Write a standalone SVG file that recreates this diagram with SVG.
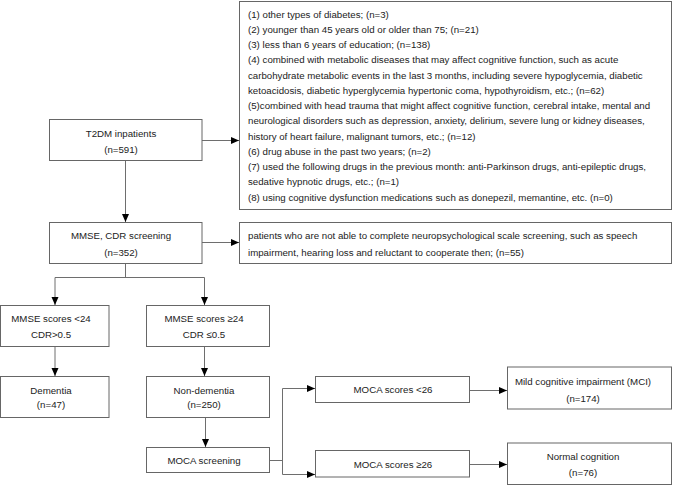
<svg xmlns="http://www.w3.org/2000/svg" width="673" height="485" viewBox="0 0 673 485">
<style>
.box{fill:#fff;stroke:#666;stroke-width:1}
.ln{fill:none;stroke:#6e6e6e;stroke-width:1}
text{font-family:"Liberation Sans",Arial,Helvetica,sans-serif;font-size:9.7px;fill:#222}
.big{font-size:9.85px}
.c{text-anchor:middle}
</style>
<defs>
<marker id="ah" markerUnits="userSpaceOnUse" markerWidth="9" markerHeight="8" refX="8" refY="3.5" orient="auto">
<path d="M0,0 L8,3.5 L0,7 z" fill="#000"/>
</marker>
</defs>
<rect width="673" height="485" fill="#fff"/>
<g id="connectors">
<path class="ln" d="M125.5,160.5 V222" marker-end="url(#ah)"/>
<path class="ln" d="M202,140.5 H239" marker-end="url(#ah)"/>
<path class="ln" d="M202,242.5 H239" marker-end="url(#ah)"/>
<path class="ln" d="M125.5,263.5 V277.5 M55,277.5 H204.5"/>
<path class="ln" d="M55,277.5 V305" marker-end="url(#ah)"/>
<path class="ln" d="M204.5,277.5 V305" marker-end="url(#ah)"/>
<path class="ln" d="M55,346.5 V376" marker-end="url(#ah)"/>
<path class="ln" d="M204.5,346.5 V376" marker-end="url(#ah)"/>
<path class="ln" d="M205.5,417.5 V447" marker-end="url(#ah)"/>
<path class="ln" d="M269.5,460.5 H282.5 M282.5,388.5 V474.5"/>
<path class="ln" d="M282.5,388.5 H315" marker-end="url(#ah)"/>
<path class="ln" d="M282.5,474.5 H315" marker-end="url(#ah)"/>
<path class="ln" d="M469.5,390.5 H507" marker-end="url(#ah)"/>
<path class="ln" d="M469.5,464.5 H507" marker-end="url(#ah)"/>
</g>
<g id="t2dm">
<rect class="box" x="49.5" y="119.5" width="152.5" height="41"/>
<text class="c" x="121" y="136.5">T2DM inpatients</text>
<text class="c" x="121" y="152.5">(n=591)</text>
</g>
<g id="exclusion1" class="big">
<rect class="box" x="239.5" y="1.5" width="432" height="208"/>
<text x="248" y="17.5">(1) other types of diabetes; (n=3)</text>
<text x="248" y="32.75">(2) younger than 45 years old or older than 75; (n=21)</text>
<text x="248" y="48">(3) less than 6 years of education; (n=138)</text>
<text x="248" y="63.25">(4) combined with metabolic diseases that may affect cognitive function, such as acute</text>
<text x="248" y="78.5">carbohydrate metabolic events in the last 3 months, including severe hypoglycemia, diabetic</text>
<text x="248" y="93.75">ketoacidosis, diabetic hyperglycemia hypertonic coma, hypothyroidism, etc.; (n=62)</text>
<text x="248" y="109">(5)combined with head trauma that might affect cognitive function, cerebral intake, mental and</text>
<text x="248" y="124.25">neurological disorders such as depression, anxiety, delirium, severe lung or kidney diseases,</text>
<text x="248" y="139.5">history of heart failure, malignant tumors, etc.; (n=12)</text>
<text x="248" y="154.75">(6) drug abuse in the past two years; (n=2)</text>
<text x="248" y="170">(7) used the following drugs in the previous month: anti-Parkinson drugs, anti-epileptic drugs,</text>
<text x="248" y="185.25">sedative hypnotic drugs, etc.; (n=1)</text>
<text x="248" y="200.5">(8) using cognitive dysfunction medications such as donepezil, memantine, etc. (n=0)</text>
</g>
<g id="mmse-cdr">
<rect class="box" x="49.5" y="222.5" width="152.5" height="41"/>
<text class="c" x="121" y="238.5">MMSE, CDR screening</text>
<text class="c" x="121" y="255.5">(n=352)</text>
</g>
<g id="exclusion2" class="big">
<rect class="box" x="239.5" y="222.5" width="432" height="41"/>
<text x="248" y="238.5">patients who are not able to complete neuropsychological scale screening, such as speech</text>
<text x="248" y="255.5">impairment, hearing loss and reluctant to cooperate then; (n=55)</text>
</g>
<g id="mmse-low">
<rect class="box" x="0.5" y="305.5" width="108.5" height="41"/>
<text class="c" x="51" y="321.8">MMSE scores &lt;24</text>
<text class="c" x="51" y="337.5">CDR&gt;0.5</text>
</g>
<g id="mmse-high">
<rect class="box" x="146.5" y="305.5" width="123" height="41"/>
<text class="c" x="204" y="321.8">MMSE scores ≥24</text>
<text class="c" x="204" y="337.5">CDR ≤0.5</text>
</g>
<g id="dementia">
<rect class="box" x="0.5" y="376.5" width="108.5" height="41"/>
<text class="c" x="51" y="393.5">Dementia</text>
<text class="c" x="51" y="408">(n=47)</text>
</g>
<g id="non-dementia">
<rect class="box" x="146.5" y="376.5" width="123" height="41"/>
<text class="c" x="204" y="393.5">Non-dementia</text>
<text class="c" x="204" y="408">(n=250)</text>
</g>
<g id="moca-screening">
<rect class="box" x="146.5" y="447.5" width="123" height="25"/>
<text class="c" x="204" y="463.5">MOCA screening</text>
</g>
<g id="moca-low">
<rect class="box" x="315.5" y="376.5" width="154" height="26"/>
<text class="c" x="393" y="392.8">MOCA scores &lt;26</text>
</g>
<g id="moca-high">
<rect class="box" x="315.5" y="450.5" width="154" height="26.5"/>
<text class="c" x="393" y="467.5">MOCA scores ≥26</text>
</g>
<g id="mci">
<rect class="box" x="507.5" y="367" width="164" height="42"/>
<text class="c" x="583" y="385.2">Mild cognitive impairment (MCI)</text>
<text class="c" x="583" y="401.8">(n=174)</text>
</g>
<g id="normal">
<rect class="box" x="507.5" y="443" width="164" height="41.5"/>
<text class="c" x="583" y="460.2">Normal cognition</text>
<text class="c" x="583" y="476.2">(n=76)</text>
</g>
</svg>
